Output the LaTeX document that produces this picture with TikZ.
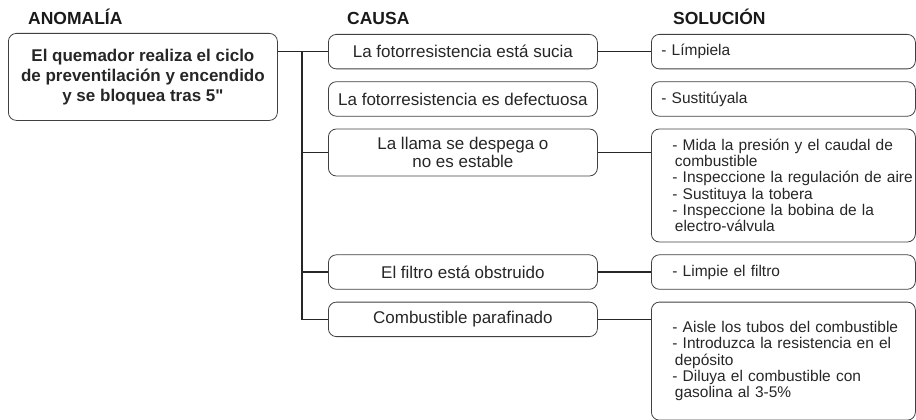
\documentclass[tikz,border=0pt]{standalone}
\usepackage{fontspec}
\setmainfont{Liberation Sans}
\usetikzlibrary{positioning}

\begin{document}
\begin{tikzpicture}[
    x=1pt, y=1pt,
    node distance=12pt,
    header/.style={anchor=base west, inner sep=0pt, font=\fontsize{17.5}{20}\selectfont\bfseries, text=black!90},
    anomaly/.style={rectangle, draw=black!75, line width=0.8pt, rounded corners=8pt, align=center, minimum width=269pt, minimum height=87pt, font=\fontsize{17}{20}\selectfont\bfseries, text=black!85},
    cause/.style={rectangle, draw=black!75, line width=0.8pt, rounded corners=8pt, align=center, minimum width=269pt, minimum height=34.5pt, inner sep=0pt, font=\fontsize{17}{18}\selectfont, text=black!85},
    solution/.style={rectangle, draw=black!75, line width=0.8pt, rounded corners=8pt, align=left, text width=244pt, inner xsep=10pt, inner ysep=0pt, minimum height=34.5pt, font=\fontsize{15.5}{16.3}\selectfont, text=black!85},
    inset/.style={solution, execute at begin node={\leftskip=11pt\rightskip=-12pt plus 1fil}},
    link/.style={line width=1.3pt, draw=black!85}
]
\useasboundingbox (0,0) rectangle (916,-420);

% Headers
\node[header] (hanom) at (28,-25) {ANOMALÍA};
\node[header] (hcause) at (347,-25) {CAUSA};
\node[header] (hsol) at (673,-25) {SOLUCIÓN};

% Anomaly
\node[anomaly, anchor=north west] (anom) at (8,-33) {El quemador realiza el ciclo\\de preventilación y encendido\\y se bloquea tras 5\XeTeXglyph\XeTeXcharglyph"22\relax};

% Solutions
\node[solution, anchor=north west] (s1) at (651,-34) {- Límpiela};
\node[solution, below=of s1] (s2) {- Sustitúyala};
\node[inset, below=of s2, minimum height=113pt] (s3) {- Mida la presión y el caudal de\\\hspace*{2.5pt}combustible\\- Inspeccione la regulación de aire\\- Sustituya la tobera\\- Inspeccione la bobina de la\\\hspace*{2.5pt}electro-válvula};
\node[inset, below=of s3] (s4) {- Limpie el filtro};
\node[inset, below=of s4, minimum height=118pt] (s5) {- Aisle los tubos del combustible\\- Introduzca la resistencia en el\\\hspace*{2.5pt}depósito\\- Diluya el combustible con\\\hspace*{2.5pt}gasolina al 3-5\%};

% Causes
\node[cause, anchor=north west] (c1) at (328,-34) {La fotorresistencia está sucia};
\node[cause, below=of c1] (c2) {La fotorresistencia es defectuosa};
\node[cause, anchor=north, minimum height=47pt] (c3) at (c2.south |- s3.north) {La llama se despega o\\no es estable};
\node[cause, anchor=north] (c4) at (c2.south |- s4.north) {El filtro está obstruido};
\node[cause, anchor=north] (c5) at (c2.south |- s5.north) {Combustible parafinado};

% Connectors
\coordinate (jn) at ([xshift=-26pt]c1.west);
\draw[link] (anom.east |- c1.west) -- (c1.west);
\draw[link] (jn) |- (c3.west);
\draw[link] (jn) |- (c4.west);
\draw[link] (jn) |- (c5.west);

\draw[link] (c1.east) -- (s1.west |- c1.east);
\draw[link] (c3.east) -- (s3.west |- c3.east);
\draw[link] (c4.east) -- (s4.west |- c4.east);
\draw[link] (c5.east) -- (s5.west |- c5.east);

\end{tikzpicture}
\end{document}
